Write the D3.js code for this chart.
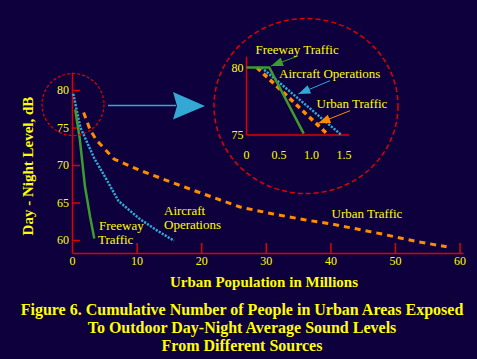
<!DOCTYPE html>
<html><head><meta charset="utf-8">
<script src="https://cdn.jsdelivr.net/npm/d3@7"></script>
<style>
html,body{margin:0;padding:0;background:#0e003c;}
svg{display:block;}
text{font-family:"Liberation Serif","Times New Roman",serif;fill:#ffff00;}
</style></head>
<body>
<svg id="c" width="477" height="359"></svg>
<script>
// ---- data ----
const xTicks = [0,10,20,30,40,50,60];
const yTicks = [60,65,70,75,80];
const freeway = [[0.5,77.4],[1.2,73.5],[2.0,67.2],[2.8,63.1],[3.45,60.2]];
const aircraft = [[0.2,79.5],[0.8,77],[1.3,75],[2.5,72.7],[3.5,70.8],[5,68.6],[7.2,65.2],[10.5,62.8],[13.3,61.2],[15.8,59.9]];
const urban = [[1.8,77],[2.8,74.7],[3.8,73.3],[5,72.2],[6.5,70.8],[10.5,69.3],[15.7,67.6],[20.8,66],[26,64.4],[31,63.5],[36,62.7],[40.4,62.1],[48,60.8],[53.4,59.8],[58,59.1]];
// inset (magnified)
const insetXTicks = [0,0.5,1.0,1.5];
const insetXLabels = ["0","0.5","1.0","1.5"];
const insetYTicks = [80,75];
const insetFreeway = [[0,80],[0.35,80],[0.88,75.1]];
const insetAircraft = [[0.23,80],[1.46,75]];
const insetUrban = [[0.16,80],[1.26,75]];
const captionLines = ["Figure 6. Cumulative Number of People in Urban Areas Exposed","To Outdoor Day-Night Average Sound Levels","From Different Sources"];

const C = {red:"#e00000", green:"#3c9c2c", blue:"#33a8d4", orange:"#ff8c00", yellow:"#ffff00"};
const svg = d3.select("#c");
svg.append("rect").attr("width",477).attr("height",359).attr("fill","#0e003c");

// ---- main scales ----
const x = d3.scaleLinear().domain([0,60.53]).range([72,463]);
const y = d3.scaleLinear().domain([58.27,82.4]).range([253,72]);

const gx = svg.append("g").attr("transform","translate(0,253)")
  .call(d3.axisBottom(x).tickValues(xTicks).tickFormat(d3.format("d")).tickSizeInner(-10).tickSizeOuter(0).tickPadding(3));
const gy = svg.append("g").attr("transform","translate(72,0)")
  .call(d3.axisLeft(y).tickValues(yTicks).tickSizeInner(-8).tickSizeOuter(0).tickPadding(3));
[gx,gy].forEach(g=>{
  g.select(".domain").attr("stroke",C.red).attr("stroke-width",1.5);
  g.selectAll(".tick line").attr("stroke",C.red).attr("stroke-width",1.5);
  g.selectAll(".tick text").attr("fill",C.yellow).style("font-family","'Liberation Serif',serif").style("font-size","12px");
});
gx.selectAll(".tick").filter(d=>d===0).select("line").remove();

const line = d3.line().x(d=>x(d[0])).y(d=>y(d[1]));
svg.append("path").datum(urban).attr("d",line).attr("fill","none").attr("stroke",C.orange).attr("stroke-width",3).attr("stroke-dasharray","6,5");
svg.append("path").datum(aircraft).attr("d",line).attr("fill","none").attr("stroke",C.blue).attr("stroke-width",2.5).attr("stroke-dasharray","2.2,1.3");
svg.append("path").datum(freeway).attr("d",line).attr("fill","none").attr("stroke",C.green).attr("stroke-width",2.5);

// small circle around the top
svg.append("circle").attr("cx",73).attr("cy",104.5).attr("r",31)
  .attr("fill","none").attr("stroke",C.red).attr("stroke-width",1.2).attr("stroke-dasharray","3,2");

// pointer arrow
svg.append("line").attr("x1",108).attr("y1",105.5).attr("x2",176).attr("y2",105.5).attr("stroke",C.blue).attr("stroke-width",1.6);
svg.append("path").attr("d","M173,92 L205,106 L173,119.5 L177,106 Z").attr("fill",C.blue);

// big circle
svg.append("ellipse").attr("cx",306).attr("cy",106).attr("rx",92).attr("ry",87.5)
  .attr("fill","none").attr("stroke",C.red).attr("stroke-width",1.5).attr("stroke-dasharray","5,3");

// ---- inset ----
const xi = d3.scaleLinear().domain([0,1.5]).range([246.5,344]);
const yi = d3.scaleLinear().domain([75,80]).range([135,67.5]);
svg.append("line").attr("x1",xi(0)).attr("x2",xi(0)).attr("y1",yi(80.8)).attr("y2",yi(75)).attr("stroke",C.red).attr("stroke-width",1.5);
svg.append("line").attr("x1",xi(0)).attr("x2",xi(1.58)).attr("y1",yi(75)).attr("y2",yi(75)).attr("stroke",C.red).attr("stroke-width",1.5);
svg.selectAll(".itick").data(insetXTicks).enter().append("line")
  .attr("x1",d=>xi(d)).attr("x2",d=>xi(d)).attr("y1",142).attr("y2",150).attr("stroke","#000018").attr("stroke-width",1.2);
svg.selectAll(".ixl").data(insetXTicks).enter().append("text")
  .attr("x",d=>xi(d)).attr("y",159).attr("text-anchor","middle").style("font-size","12px").text((d,i)=>insetXLabels[i]);
svg.selectAll(".iyl").data(insetYTicks).enter().append("text")
  .attr("x",xi(0)-3).attr("y",d=>yi(d)+4).attr("text-anchor","end").style("font-size","12px").text(d=>d);

const iline = d3.line().x(d=>xi(d[0])).y(d=>yi(d[1]));
svg.append("path").datum(insetUrban).attr("d",iline).attr("fill","none").attr("stroke",C.orange).attr("stroke-width",3.5).attr("stroke-dasharray","5,4");
svg.append("path").datum(insetAircraft).attr("d",iline).attr("fill","none").attr("stroke",C.blue).attr("stroke-width",2.5).attr("stroke-dasharray","2.2,1.3");
svg.append("path").datum(insetFreeway).attr("d",iline).attr("fill","none").attr("stroke",C.green).attr("stroke-width",2.5);

function arrow(x1,y1,x2,y2,col,len,w){
  svg.append("line").attr("x1",x1).attr("y1",y1).attr("x2",x2).attr("y2",y2).attr("stroke",col).attr("stroke-width",1);
  const a=Math.atan2(y2-y1,x2-x1), c=Math.cos(a), s=Math.sin(a);
  const bx=x2-len*c, by=y2-len*s;
  svg.append("path").attr("d",`M${x2},${y2} L${bx-w*s},${by+w*c} L${bx+w*s},${by-w*c} Z`).attr("fill",col);
}
arrow(298,56,271,66,C.green,12,4.5);
arrow(330,80.7,298.3,94,C.blue,12,4.5);
arrow(350,110.7,318.3,123.3,C.orange,12,4.5);

const lab = (t,xx,yy,anchor)=>svg.append("text").attr("x",xx).attr("y",yy).attr("text-anchor",anchor||"start").style("font-size","13px").text(t);
lab("Freeway Traffic",255.5,54);
lab("Aircraft Operations",279,77.5);
lab("Urban Traffic",316.5,108);
lab("Freeway",99,230);
lab("Traffic",98,243.5);
lab("Aircraft",164,215);
lab("Operations",164,229);
lab("Urban Traffic",331.5,217.5);

// ---- titles ----
svg.append("text").attr("transform","translate(33,166) rotate(-90)").attr("text-anchor","middle")
  .style("font-size","15px").style("font-weight","bold").text("Day - Night Level, dB");
svg.append("text").attr("x",264).attr("y",286.5).attr("text-anchor","middle")
  .style("font-size","15px").style("font-weight","bold").text("Urban Population in Millions");
svg.selectAll(".cap").data(captionLines).enter().append("text")
  .attr("x",242).attr("y",(d,i)=>314.5+i*18).attr("text-anchor","middle")
  .style("font-size","16px").style("font-weight","bold").text(d=>d);
</script>
</body></html>
